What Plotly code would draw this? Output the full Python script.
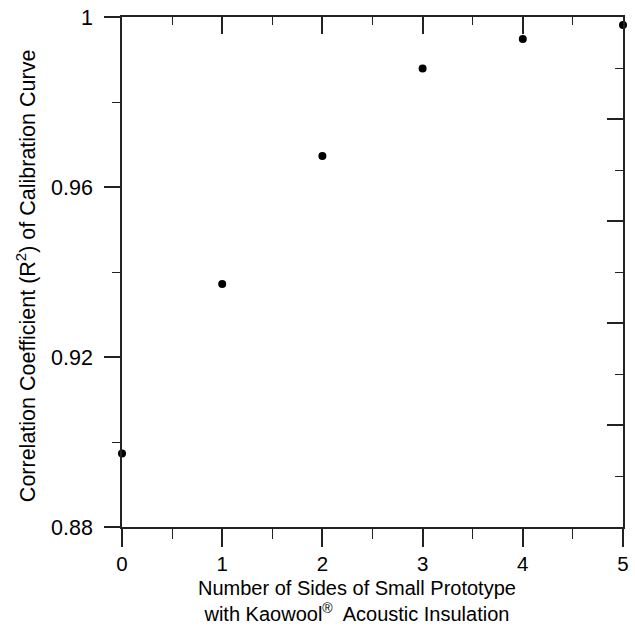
import plotly.graph_objects as go

sides = [0, 1, 2, 3, 4, 5]
r_squared = [0.8973, 0.9372, 0.9673, 0.9879, 0.9948, 0.9981]

y_ticks = [0.88, 0.92, 0.96, 1.0]
y_tick_labels = ["0.88", "0.92", "0.96", "1"]
x_ticks = [0, 1, 2, 3, 4, 5]

W, H = 635, 632
L, R, T, B = 122, 6, 17, 105
pw, ph = W - L - R, H - T - B

def px(xp):
    return (xp - L) / pw

def py(yp):
    return (H - B - yp) / ph

fig = go.Figure()
fig.add_trace(go.Scatter(
    x=sides, y=r_squared, mode="markers",
    marker=dict(color="black", size=8),
    cliponaxis=False, showlegend=False, hoverinfo="x+y",
))
fig.add_trace(go.Scatter(
    x=sides, y=r_squared, mode="markers", xaxis="x2", yaxis="y2",
    marker=dict(color="rgba(0,0,0,0)", size=1),
    showlegend=False, hoverinfo="skip",
))

font = "Liberation Sans, Arial, sans-serif"
axcol = "#222"

fig.update_layout(
    width=W, height=H,
    margin=dict(l=L, r=R, t=T, b=B),
    paper_bgcolor="white", plot_bgcolor="white",
    font=dict(family=font, color="black", size=21),
    xaxis=dict(
        range=[0, 5], tickvals=x_ticks, ticktext=[str(v) for v in x_ticks],
        ticks="outside", ticklen=18, tickwidth=1.5, tickcolor=axcol,
        showline=True, linecolor=axcol, linewidth=1.5,
        showgrid=False, zeroline=False, ticklabelstandoff=0,
        minor=dict(dtick=0.5, tick0=0, ticks="outside", ticklen=10,
                   tickwidth=1.2, tickcolor=axcol, showgrid=False),
        tickfont=dict(size=20.5),
    ),
    xaxis2=dict(
        range=[0, 5], overlaying="x", side="top", dtick=1, tick0=0,
        ticks="inside", ticklen=17, tickwidth=1.5, tickcolor=axcol,
        showline=True, linecolor=axcol, linewidth=1.5,
        showgrid=False, zeroline=False, showticklabels=False,
        minor=dict(dtick=0.5, tick0=0, ticks="inside", ticklen=8,
                   tickwidth=1.2, tickcolor=axcol, showgrid=False),
    ),
    yaxis=dict(
        range=[0.88, 1.0], tickvals=y_ticks, ticktext=y_tick_labels,
        ticks="outside", ticklen=16, tickwidth=1.5, tickcolor=axcol,
        showline=True, linecolor=axcol, linewidth=1.5,
        showgrid=False, zeroline=False, ticklabelstandoff=7,
        minor=dict(tickvals=[0.90, 0.94, 0.98], ticks="outside", ticklen=8,
                   tickwidth=1.2, tickcolor=axcol, showgrid=False),
        tickfont=dict(size=21.5),
    ),
    yaxis2=dict(
        range=[0.88, 1.0], overlaying="y", side="right",
        tick0=0.88, dtick=0.024,
        ticks="inside", ticklen=16, tickwidth=1.5, tickcolor=axcol,
        showline=True, linecolor=axcol, linewidth=1.5,
        showgrid=False, zeroline=False, showticklabels=False,
        minor=dict(dtick=0.012, tick0=0.88, ticks="inside", ticklen=8,
                   tickwidth=1.2, tickcolor=axcol, showgrid=False),
    ),
    annotations=[
        dict(text="Correlation Coefficient (R<sup>2</sup>) of Calibration Curve",
             xref="paper", yref="paper", x=px(25), y=py(276),
             xanchor="center", yanchor="middle", textangle=-90,
             showarrow=False, font=dict(size=21.5)),
        dict(text="Number of Sides of Small Prototype<br>"
                  "with Kaowool<sup>®</sup>  Acoustic Insulation",
             xref="paper", yref="paper", x=px(360), y=py(601),
             xanchor="center", yanchor="middle", align="center",
             showarrow=False, font=dict(size=20)),
    ],
)

fig.write_html("out.html")
